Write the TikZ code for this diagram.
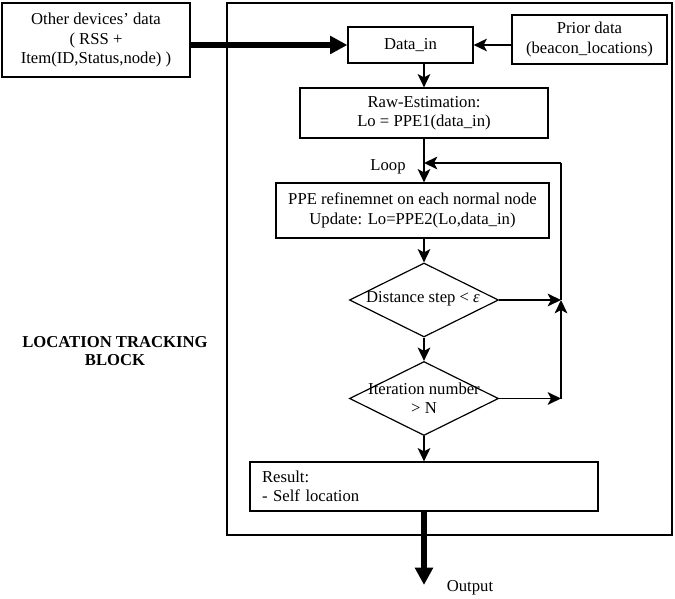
\documentclass[tikz,border=0pt]{standalone}
\usepackage{fontspec}
\setmainfont{Liberation Serif}
\usetikzlibrary{shapes.geometric,arrows.meta}
\begin{document}
\begin{tikzpicture}[x=0.75pt,y=-0.75pt,
  every node/.style={font=\fontsize{12.5}{14.6}\selectfont, inner sep=0pt},
  box/.style={draw, line width=0.9pt, align=center},
  dia/.style={draw, diamond, line width=0.9pt, minimum width=149*0.75pt, minimum height=74*0.75pt},
  conn/.style={line width=1.4pt, -{Stealth[length=10pt,width=9.5pt,inset=2.5pt]}},
  plain/.style={line width=1.4pt},
  thick arrow/.style={line width=5pt, -{Triangle[length=13pt,width=13pt]}},
  lbl/.style={align=center}]
\useasboundingbox (0,0) rectangle (675,599);
% big block
\node[draw, line width=2.2pt, minimum width=445*0.75pt, minimum height=532*0.75pt] (block) at (449.5,269) {};
% boxes
\node[box, minimum width=188*0.75pt, minimum height=74*0.75pt] (other) at (96,40) {Other devices’ data\\( RSS +\\Item(ID,Status,node) )};
\node[box, minimum width=125*0.75pt, minimum height=36*0.75pt] (data) at (410.5,45) {Data\_in};
\node[box, minimum width=155*0.75pt, minimum height=49*0.75pt] (prior) at (589.5,39.5) {Prior data\\(beacon\_locations)};
\node[box, minimum width=248*0.75pt, minimum height=50*0.75pt] (raw) at (424,113) {Raw-Estimation:\\Lo = PPE1(data\_in)};
\node[box, minimum width=273*0.75pt, minimum height=55*0.75pt] (ppe) at (412.5,210.5) {PPE refinemnet on each normal node\\Update: Lo=PPE2(Lo,data\_in)};
\node[dia] (d1) at (424,300) {};
\node[lbl] (d1t) at (423,299) {Distance step < \textit{ε}};
\node[dia] (d2) at (424,398.5) {};
\node[lbl] (d2t) at (424,398) {Iteration number\\> N};
\node[box, align=left, text width=324*0.75pt, minimum width=348*0.75pt, minimum height=49*0.75pt] (res) at (424,486.5) {Result:\\- Self location};
% labels
\node[lbl] (loop) at (388,167) {Loop};
\node[lbl] (outl) at (470,588) {Output};
\node[lbl, font=\fontsize{12.5}{14}\selectfont\bfseries] (ltb) at (115,351) {LOCATION TRACKING\\BLOCK};
% junctions
\coordinate (j1) at (561,300);
\coordinate (j2) at (561,398.5);
\coordinate (jtop) at (561,163);
\coordinate (lp) at (424,163);
\coordinate (outtip) at (424,585);
% connectors
\draw[thick arrow] (other.east |- data.west) -- (data.west);
\draw[conn] (prior.west |- data.east) -- (data.east);
\draw[conn] (raw.north |- data.south) -- (raw.north);
\draw[conn] (raw.south) -- (raw.south |- ppe.north);
\draw[conn] (ppe.south -| d1.north) -- (d1.north);
\draw[conn] (d1.south) -- (d2.north);
\draw[conn] (d2.south) -- (res.north);
\draw[conn] (d1.east) -- (j1);
\draw[conn] (d2.east) -- (j2);
\draw[conn] (j2) -- (j1);
\draw[plain] (j1) -- (jtop);
\draw[conn] (jtop) -- (lp);
\draw[thick arrow] (res.south) -- (outtip);
\end{tikzpicture}
\end{document}
